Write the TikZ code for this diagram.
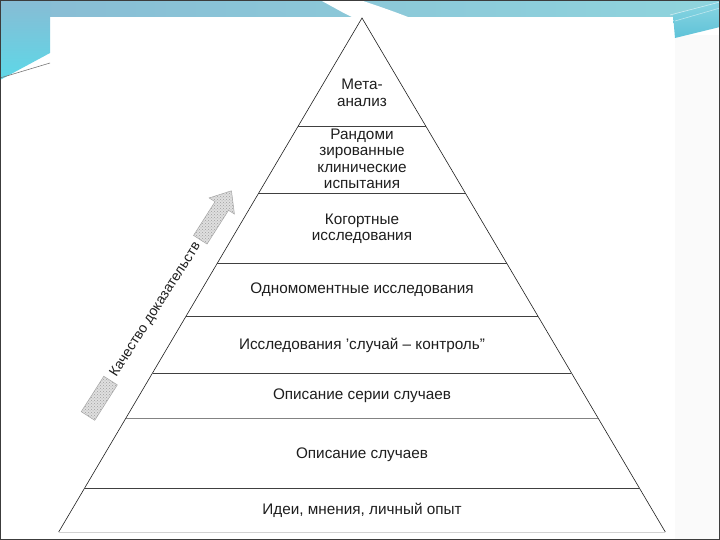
\documentclass[tikz,border=0pt]{standalone}
\usepackage{fontspec}
\setmainfont{Liberation Sans}
\usetikzlibrary{patterns,calc}
\definecolor{bandL}{HTML}{88BCD4}
\definecolor{bandR}{HTML}{8FD4DD}
\definecolor{cyanB}{HTML}{5CD8E8}
\definecolor{rblue}{HTML}{5EC2D8}
\definecolor{rblueL}{HTML}{8CD6E2}
\definecolor{ink}{HTML}{1E1E1E}
\definecolor{framec}{HTML}{3C3C3C}
\begin{document}
\begin{tikzpicture}[x=1pt,y=1pt,
  lvl/.style={font=\fontsize{15.3}{16.5}\selectfont, text=ink, align=center, inner sep=0pt},
  tier/.style={draw=ink!85, line width=0.7pt},
  pedge/.style={draw=ink, line width=0.6pt},
  qarrow/.style={draw=gray!70, line width=0.5pt, preaction={fill=gray!25}, pattern=crosshatch dots, pattern color=gray!75}
]
\useasboundingbox (0,0) rectangle (720,540);
\fill[white] (0,0) rectangle (720,540);
% right strip
\fill[gray!4] (675,0) rectangle (720,505);
% top band
\shade[left color=bandL, right color=bandR] (0,523) rectangle (720,540);
% left blue shape
\shade[top color=bandL, bottom color=cyanB] (0,540) -- (50,540) -- (50,487) -- (0,460) -- cycle;
\draw[framec!70, line width=0.6pt] (0,462) -- (50,477);
% white swoosh
\fill[white] (320,540) .. controls (335,532) and (345,526) .. (352,523) -- (408,523) .. controls (390,530) and (372,536) .. (360,540) -- cycle;
% right blue shape
\shade[top color=rblueL, bottom color=rblue] (673,525) -- (720,540) -- (720,513) -- (675,502) -- cycle;
\draw[white!70!rblue, line width=0.6pt] (670,525) -- (720,538);
\draw[white!60!rblue, line width=0.6pt] (675,519) -- (720,532);
% frame
\draw[framec, line width=1.2pt] (0.6,0.6) rectangle (719.4,539.4);

% pyramid
\coordinate (apex) at (362,522);
\coordinate (bl) at (58.7,8);
\coordinate (br) at (665.3,8);
\draw[pedge] (bl) -- (apex) -- (br);
\foreach \t/\c in {0.2101/85, 0.3405/85, 0.4767/85, 0.5798/85, 0.6907/85, 0.7782/55, 0.9144/85}{
  \draw[tier, draw=ink!\c] ($(apex)!\t!(bl)$) -- ($(apex)!\t!(br)$);
}
\draw[gray!35, line width=0.6pt] (bl) -- (br);

\node[lvl] (meta) at (362,447) {Мета-\\анализ};
\node[lvl] (rkt) at (362,381) {Рандоми\\зированные\\клинические\\испытания};
\node[lvl] (cohort) at (362,311) {Когортные\\исследования};
\node[lvl] (cross) at (362,250) {Одномоментные исследования};
\node[lvl] (cc) at (362,195) {Исследования 'случай – контроль"};
\node[lvl] (series) at (362,144) {Описание серии случаев};
\node[lvl] (cases) at (362,85) {Описание случаев};
\node[lvl] (ideas) at (362,30) {Идеи, мнения, личный опыт};

% quality arrow
\begin{scope}[shift={(88,124)}, rotate=57.5]
  \path[qarrow] (0,-8) rectangle (42,8);
  \path[qarrow] (209,-8) -- (249,-8) -- (249,-15) -- (267,0) -- (249,15) -- (249,8) -- (209,8) -- cycle;
  \node[font=\fontsize{14}{16}\selectfont, text=ink, rotate=57.5, inner sep=0pt] (qual) at (126,0) {Качество доказательств};
\end{scope}
\end{tikzpicture}
\end{document}
